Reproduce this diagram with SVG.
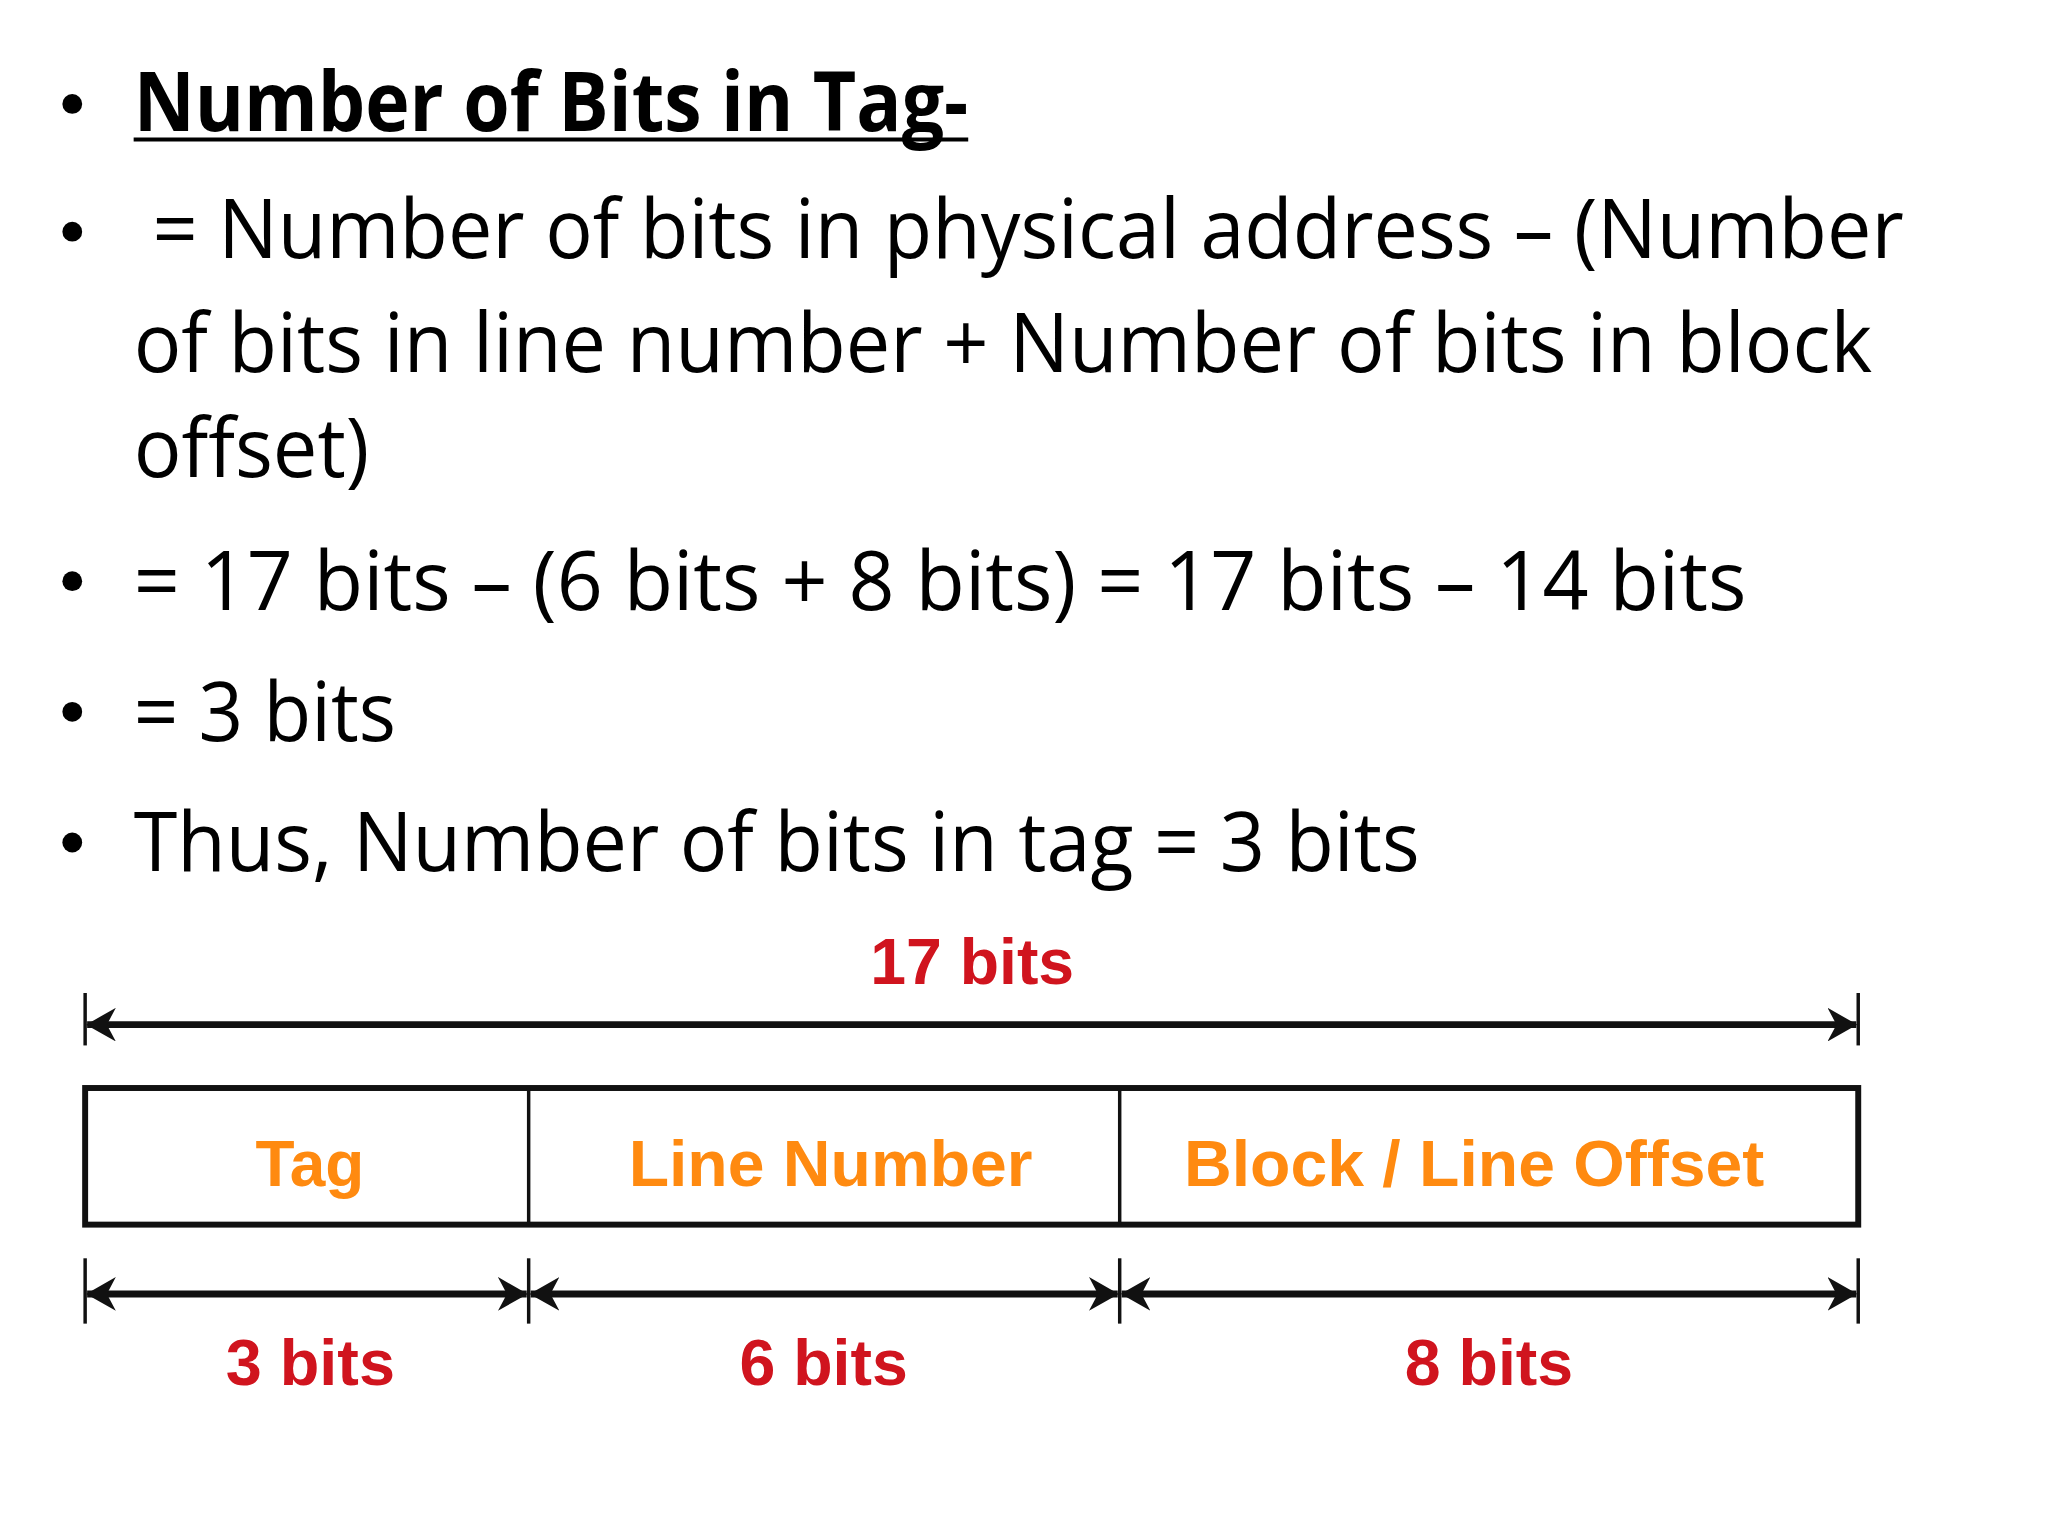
<svg xmlns="http://www.w3.org/2000/svg" width="2048" height="1536" viewBox="0 0 2048 1536">
<style>
.t{font-family:"Open Sans","Noto Sans",sans-serif;font-size:84px;fill:#000}
.b{font-weight:bold}
.r{font-family:"Liberation Sans",Arial,sans-serif;font-weight:bold;font-size:66px;fill:#D0141E}
.o{font-family:"Liberation Sans",Arial,sans-serif;font-weight:bold;font-size:66px;fill:#FF8A10}
.ln{stroke:#111;stroke-width:7;fill:none}
.tk{stroke:#111;stroke-width:3.5}
</style>
<defs>
<marker id="ah" viewBox="0 0 30 34" refX="29" refY="17" markerWidth="30" markerHeight="34" markerUnits="userSpaceOnUse" orient="auto-start-reverse">
<path d="M0,0 L30,17 L0,34 L9,17 Z" fill="#111"/>
</marker>
</defs>
<rect width="2048" height="1536" fill="#fff"/>
<g transform="scale(0.99)">
<g id="text">
<g fill="#000"><circle cx="73" cy="105" r="10"/><circle cx="73" cy="234" r="10"/><circle cx="73" cy="587" r="10"/><circle cx="73" cy="719" r="10"/><circle cx="73" cy="851" r="10"/></g>
<text class="t b" x="135" y="132" textLength="843" lengthAdjust="spacingAndGlyphs">Number of Bits in Tag-</text>
<line x1="135" y1="141" x2="978" y2="141" stroke="#000" stroke-width="4"/>
<text class="t" x="154" y="261" textLength="1769" lengthAdjust="spacingAndGlyphs">= Number of bits in physical address – (Number</text>
<text class="t" x="135" y="376" textLength="1756" lengthAdjust="spacingAndGlyphs">of bits in line number + Number of bits in block</text>
<text class="t" x="135" y="482" textLength="238" lengthAdjust="spacingAndGlyphs">offset)</text>
<text class="t" x="135" y="616" textLength="1629" lengthAdjust="spacingAndGlyphs">= 17 bits – (6 bits + 8 bits) = 17 bits – 14 bits</text>
<text class="t" x="135" y="748" textLength="265" lengthAdjust="spacingAndGlyphs">= 3 bits</text>
<text class="t" x="135" y="880" textLength="1299" lengthAdjust="spacingAndGlyphs">Thus, Number of bits in tag = 3 bits</text>
</g>
<g id="box">
<rect x="86" y="1099" width="1791" height="138" fill="#fff" stroke="#111" stroke-width="6"/>
<line x1="534" y1="1099" x2="534" y2="1237" class="tk"/>
<line x1="1131" y1="1099" x2="1131" y2="1237" class="tk"/>
<text class="o" x="258" y="1198" textLength="110" lengthAdjust="spacingAndGlyphs">Tag</text>
<text class="o" x="635" y="1198" textLength="408" lengthAdjust="spacingAndGlyphs">Line Number</text>
<text class="o" x="1196" y="1198" textLength="586" lengthAdjust="spacingAndGlyphs">Block / Line Offset</text>
</g>
<g id="connectors">
<line x1="86" y1="1003" x2="86" y2="1056" class="tk"/>
<line x1="1877" y1="1003" x2="1877" y2="1056" class="tk"/>
<line x1="88" y1="1035" x2="1875" y2="1035" class="ln" marker-start="url(#ah)" marker-end="url(#ah)"/>
<line x1="86" y1="1271" x2="86" y2="1337" class="tk"/>
<line x1="534" y1="1271" x2="534" y2="1337" class="tk"/>
<line x1="1131" y1="1271" x2="1131" y2="1337" class="tk"/>
<line x1="1877" y1="1271" x2="1877" y2="1337" class="tk"/>
<line x1="88" y1="1307" x2="532" y2="1307" class="ln" marker-start="url(#ah)" marker-end="url(#ah)"/>
<line x1="536" y1="1307" x2="1129" y2="1307" class="ln" marker-start="url(#ah)" marker-end="url(#ah)"/>
<line x1="1133" y1="1307" x2="1875" y2="1307" class="ln" marker-start="url(#ah)" marker-end="url(#ah)"/>
</g>
<g id="labels">
<text class="r" x="879" y="994" textLength="206" lengthAdjust="spacingAndGlyphs">17 bits</text>
<text class="r" x="228" y="1399" textLength="171" lengthAdjust="spacingAndGlyphs">3 bits</text>
<text class="r" x="747" y="1399" textLength="170" lengthAdjust="spacingAndGlyphs">6 bits</text>
<text class="r" x="1419" y="1399" textLength="170" lengthAdjust="spacingAndGlyphs">8 bits</text>
</g>
</g>
</svg>
